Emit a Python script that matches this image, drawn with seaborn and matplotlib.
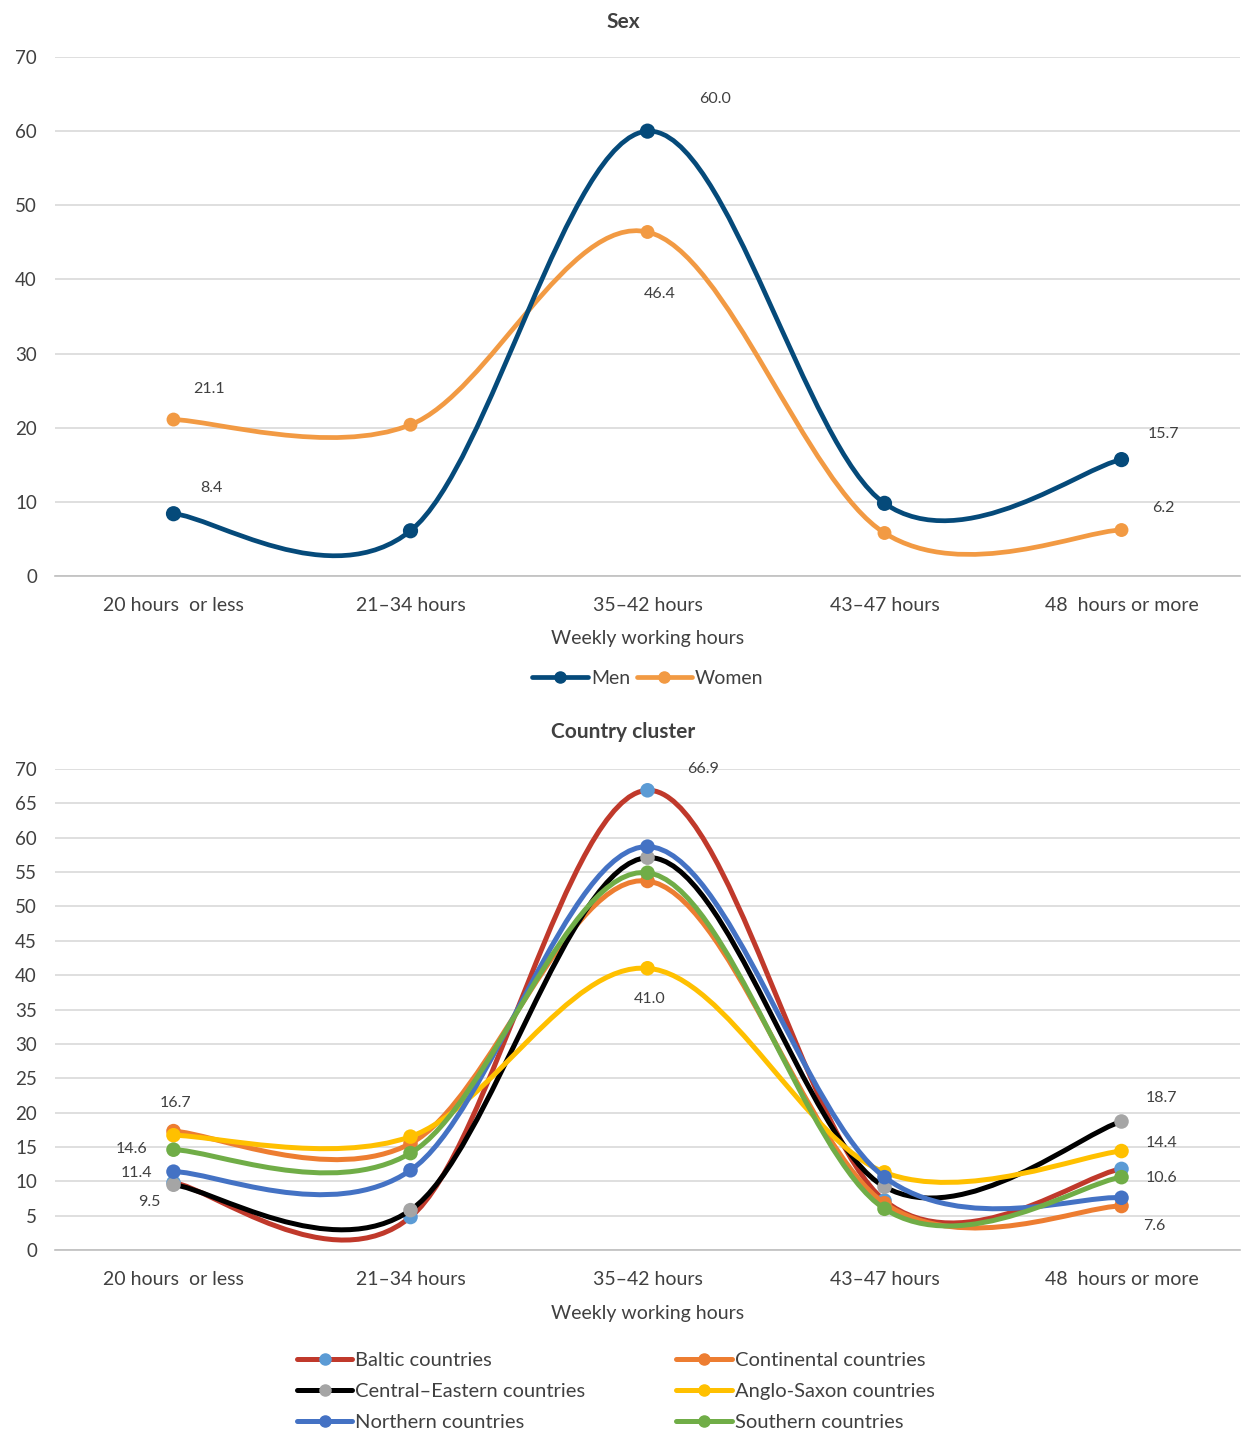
import numpy as np
import pandas as pd
import seaborn as sns
import matplotlib
matplotlib.use("Agg")
import matplotlib.pyplot as plt
from matplotlib.path import Path
from matplotlib.patches import PathPatch
from matplotlib.lines import Line2D

# Datos
categorias = ["20 hours  or less", "21\u201334 hours", "35\u201342 hours", "43\u201347 hours", "48  hours or more"]

men = [8.4, 6.1, 60.0, 9.8, 15.7]
women = [21.1, 20.4, 46.4, 5.8, 6.2]

baltic = [9.8, 4.8, 66.9, 7.2, 11.8]
continental = [17.3, 15.5, 53.7, 6.8, 6.4]
central_eastern = [9.5, 5.8, 57.1, 9.2, 18.7]
anglo_saxon = [16.7, 16.5, 41.0, 11.3, 14.4]
northern = [11.4, 11.6, 58.7, 10.6, 7.6]
southern = [14.6, 14.1, 54.9, 6.0, 10.6]

sns.set_theme(style="white")
plt.rcParams["font.family"] = ["Lato", "DejaVu Sans"]
plt.rcParams["text.color"] = "#404040"
plt.rcParams["xtick.color"] = "#404040"
plt.rcParams["ytick.color"] = "#404040"
plt.rcParams["axes.labelcolor"] = "#404040"

x = np.arange(len(categorias))


def curva_suave(xs, ys):
    # curva tipo Excel (Catmull-Rom -> Bezier)
    pts = np.column_stack([xs, ys]).astype(float)
    n = len(pts)
    verts = [pts[0]]
    codes = [Path.MOVETO]
    for i in range(n - 1):
        p0 = pts[i - 1] if i > 0 else pts[i]
        p1 = pts[i]
        p2 = pts[i + 1]
        p3 = pts[i + 2] if i + 2 < n else pts[i + 1]
        verts += [p1 + (p2 - p0) / 6, p2 - (p3 - p1) / 6, p2]
        codes += [Path.CURVE4] * 3
    return Path(verts, codes)


def dibujar_serie(ax, valores, color_linea, color_marcador, z, lw=3.2, s=110):
    ax.add_patch(PathPatch(curva_suave(x, valores), fill=False, edgecolor=color_linea,
                           lw=lw, zorder=z, capstyle="round", joinstyle="round"))
    sns.scatterplot(x=x, y=valores, color=color_marcador, s=s, edgecolor="none",
                    ax=ax, zorder=z + 0.5, legend=False)


def estilo_ejes(ax, yticks):
    ax.set_xlim(-0.5, 4.5)
    ax.set_ylim(0, 70)
    ax.set_yticks(yticks)
    ax.set_xticks(x)
    ax.set_xticklabels(categorias, fontsize=14)
    ax.tick_params(axis="y", length=0, pad=13, labelsize=13.5)
    ax.tick_params(axis="x", length=0, pad=15)
    ax.grid(axis="y", color="#d9d9d9", lw=1.2)
    ax.grid(axis="x", visible=False)
    for lado in ["left", "right", "top"]:
        ax.spines[lado].set_visible(False)
    ax.spines["bottom"].set_color("#bfbfbf")
    ax.spines["bottom"].set_linewidth(1.2)
    ax.set_xlabel("Weekly working hours", fontsize=14, labelpad=12)
    ax.set_ylabel("")


def etiqueta(ax, i, valor, dx, dy):
    ax.annotate(f"{valor:.1f}", (x[i], valor), xytext=(dx, -dy), textcoords="offset pixels",
                ha="center", va="center", fontsize=11.5, color="#404040", zorder=20)


fig = plt.figure(figsize=(12.42, 14.29), dpi=100)
W, H = 1242, 1429

# Grafico 1: Sexo
ax1 = fig.add_axes([55 / W, 1 - 576 / H, 1185 / W, 519 / H])
c_men, c_women = "#054a7a", "#f29a43"
dibujar_serie(ax1, men, c_men, c_men, 3, lw=3.4, s=120)
dibujar_serie(ax1, women, c_women, c_women, 2, lw=3.4, s=100)
estilo_ejes(ax1, range(0, 71, 10))
fig.text(623 / W, 1 - 22 / H, "Sex", ha="center", va="center", fontsize=15, fontweight="bold")

etiqueta(ax1, 0, men[0], 38, -26)
etiqueta(ax1, 2, men[2], 68, -32)
etiqueta(ax1, 4, men[4], 42, -26)
etiqueta(ax1, 0, women[0], 36, -31)
etiqueta(ax1, 2, women[2], 12, 62)
etiqueta(ax1, 4, women[4], 42, -22)

h1 = [Line2D([], [], color=c_men, lw=3.4, marker="o", ms=8),
      Line2D([], [], color=c_women, lw=3.4, marker="o", ms=8)]
fig.legend(h1, ["Men", "Women"], loc="center", bbox_to_anchor=(648 / W, 1 - 678 / H),
           ncol=2, frameon=False, fontsize=14, handlelength=2.85, handletextpad=0.15,
           columnspacing=0.35, borderpad=0)

# Grafico 2: Cluster de paises
ax2 = fig.add_axes([55 / W, 1 - 1250 / H, 1185 / W, 481 / H])
series = [
    ("Baltic countries", baltic, "#c0392b", "#5b9bd5"),
    ("Continental countries", continental, "#ed7d31", "#ed7d31"),
    ("Central\u2013Eastern countries", central_eastern, "#000000", "#a5a5a5"),
    ("Anglo-Saxon countries", anglo_saxon, "#ffc000", "#ffc000"),
    ("Northern countries", northern, "#4472c4", "#4472c4"),
    ("Southern countries", southern, "#70ad47", "#70ad47"),
]
for k, (nombre, vals, cl, cm) in enumerate(series):
    dibujar_serie(ax2, vals, cl, cm, 2 + k, lw=3.6, s=110)
estilo_ejes(ax2, range(0, 71, 5))
fig.text(623 / W, 1 - 732 / H, "Country cluster", ha="center", va="center", fontsize=15, fontweight="bold")

etiqueta(ax2, 0, anglo_saxon[0], 2, -32)
etiqueta(ax2, 0, southern[0], -42, -1)
etiqueta(ax2, 0, northern[0], -37, 1)
etiqueta(ax2, 0, central_eastern[0], -24, 17)
etiqueta(ax2, 2, baltic[2], 56, -21)
etiqueta(ax2, 2, anglo_saxon[2], 2, 31)
etiqueta(ax2, 4, central_eastern[4], 40, -24)
etiqueta(ax2, 4, anglo_saxon[4], 40, -8)
etiqueta(ax2, 4, southern[4], 40, 1)
etiqueta(ax2, 4, northern[4], 33, 28)

orden = [0, 2, 4, 1, 3, 5]
h2 = [Line2D([], [], color=series[i][2], lw=3.6, marker="o", ms=8,
             markerfacecolor=series[i][3], markeredgecolor=series[i][3]) for i in orden]
fig.legend(h2, [series[i][0] for i in orden], loc="upper left",
           bbox_to_anchor=(297 / W, 1 - 1352 / H), ncol=2, frameon=False, fontsize=14.5,
           handlelength=2.75, handletextpad=0.15, columnspacing=4.5, labelspacing=0.7,
           borderpad=0, borderaxespad=0)

fig.savefig("out.png", dpi=100)
plt.close(fig)
